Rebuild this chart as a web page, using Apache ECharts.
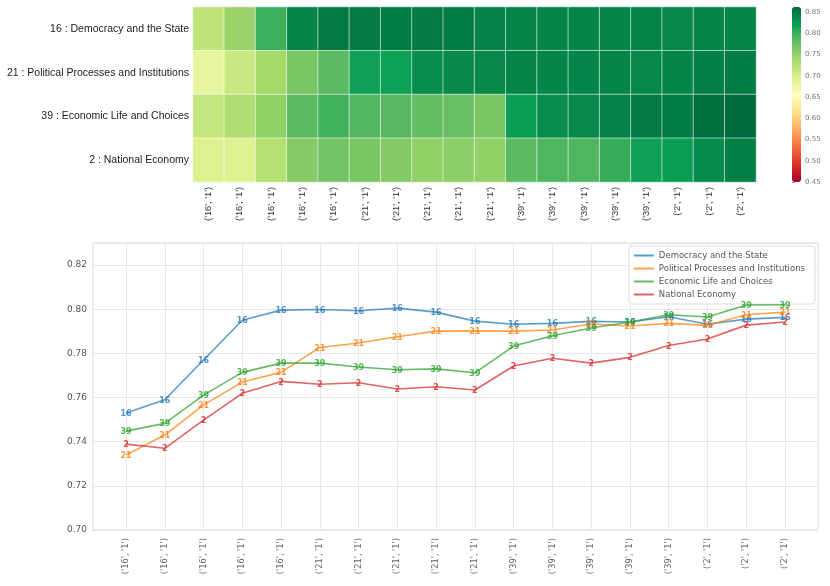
<!DOCTYPE html>
<html><head><meta charset="utf-8">
<script src="https://cdn.jsdelivr.net/npm/echarts@6/dist/echarts.min.js"></script>
<style>html,body{margin:0;padding:0;background:#fff}#c{width:830px;height:586px}</style>
</head><body><div id="c"></div>
<script>
const xLabels = ["('16', '1')","('16', '1')","('16', '1')","('16', '1')","('16', '1')",
  "('21', '1')","('21', '1')","('21', '1')","('21', '1')","('21', '1')",
  "('39', '1')","('39', '1')","('39', '1')","('39', '1')","('39', '1')",
  "('2', '1')","('2', '1')","('2', '1')"];
const topicNames = ['16 : Democracy and the State','21 : Political Processes and Institutions','39 : Economic Life and Choices','2 : National Economy'];
const seriesNames = ['Democracy and the State','Political Processes and Institutions','Economic Life and Choices','National Economy'];
const seriesCodes = ['16','21','39','2'];
const seriesColors = ['#1f77b4','#ff7f0e','#2ca02c','#d62728'];

// heatmap values (colour scale 0.45 - 0.862)
const heat16 = [0.718,0.747,0.798,0.840,0.850,0.850,0.848,0.850,0.848,0.843,0.840,0.840,0.840,0.840,0.842,0.839,0.840,0.840];
const heat21 = [0.681,0.710,0.738,0.767,0.784,0.819,0.820,0.834,0.839,0.839,0.840,0.840,0.841,0.840,0.839,0.840,0.845,0.848];
const heat39 = [0.714,0.730,0.751,0.784,0.796,0.788,0.786,0.780,0.778,0.767,0.822,0.834,0.838,0.843,0.850,0.848,0.860,0.861];
const heat2  = [0.693,0.693,0.726,0.759,0.771,0.767,0.761,0.751,0.755,0.751,0.784,0.790,0.790,0.800,0.819,0.822,0.836,0.846];

// line values
const line16 = [0.7530,0.7590,0.7770,0.7950,0.7996,0.7999,0.7993,0.8005,0.7987,0.7946,0.7932,0.7936,0.7945,0.7942,0.7966,0.7932,0.7955,0.7963];
const line21 = [0.7340,0.7430,0.7567,0.7670,0.7714,0.7827,0.7847,0.7875,0.7901,0.7902,0.7901,0.7906,0.7933,0.7924,0.7936,0.7927,0.7975,0.7987];
const line39 = [0.7448,0.7483,0.7611,0.7714,0.7756,0.7756,0.7738,0.7726,0.7730,0.7712,0.7833,0.7880,0.7915,0.7942,0.7975,0.7965,0.8019,0.8020];
const line2  = [0.7389,0.7370,0.7498,0.7619,0.7673,0.7660,0.7667,0.7639,0.7649,0.7634,0.7743,0.7778,0.7756,0.7782,0.7836,0.7865,0.7928,0.7942];

const heatRows = [heat16, heat21, heat39, heat2];
const lineRows = [line16, line21, line39, line2];

const heatData = [];
heatRows.forEach((row, yi) => row.forEach((v, xi) => heatData.push([xi, yi, v])));

const chart = echarts.init(document.getElementById('c'), null, {renderer: 'canvas'});
const DV = 'DejaVu Sans';
const LS = 'Liberation Sans';

const lineSeries = lineRows.map((row, i) => ({
  type: 'line', name: seriesNames[i], xAxisIndex: 2, yAxisIndex: 2,
  data: row, symbol: 'circle', symbolSize: 10,
  itemStyle: {color: 'rgba(0,0,0,0)', borderWidth: 0},
  lineStyle: {color: seriesColors[i], width: 1.6, opacity: 0.72},
  label: {show: true, position: [5, 5], offset: [0, 1], align: 'center', verticalAlign: 'middle', formatter: seriesCodes[i],
    color: seriesColors[i], opacity: 0.8, fontSize: 8, fontWeight: 'bold', fontFamily: DV},
  emphasis: {disabled: true}, z: 3 + i
}));

chart.setOption({
  animation: false,
  backgroundColor: '#fff',
  grid: [
    {left: 193, top: 7, width: 563, height: 175},
    {left: 93, top: 243, right: 12, bottom: 56, show: true, borderColor: '#dcdcdc', borderWidth: 1, backgroundColor: 'transparent'},
    {left: 126, top: 243, right: 45, bottom: 56},
    {left: 792, top: 7, width: 9, height: 175}
  ],
  xAxis: [
    {type: 'category', gridIndex: 0, data: xLabels, axisLine: {show: false}, axisTick: {show: false},
     axisLabel: {rotate: 90, interval: 0, fontSize: 9.3, color: '#333', margin: 5, fontFamily: LS}, splitLine: {show: false}},
    {type: 'value', gridIndex: 1, show: false, min: 0, max: 1},
    {type: 'category', gridIndex: 2, data: xLabels, boundaryGap: false, axisLine: {show: false}, axisTick: {show: false},
     axisLabel: {rotate: 90, interval: 0, fontSize: 8.2, color: '#666', margin: 8, fontFamily: DV},
     splitLine: {show: true, interval: 0, lineStyle: {color: '#e6e6e6', width: 1}}},
    {type: 'value', gridIndex: 3, show: false, min: 0, max: 1}
  ],
  yAxis: [
    {type: 'category', gridIndex: 0, data: topicNames, inverse: true, axisLine: {show: false}, axisTick: {show: false},
     axisLabel: {fontSize: 10.5, color: '#222', margin: 4, fontFamily: LS}},
    {type: 'value', gridIndex: 1, min: 0.70, max: 0.83, interval: 0.02, axisLine: {show: false}, axisTick: {show: false},
     axisLabel: {fontSize: 9, color: '#555', margin: 6, fontFamily: DV, showMaxLabel: false, formatter: v => v.toFixed(2)},
     splitLine: {show: true, lineStyle: {color: '#e6e6e6', width: 1}}},
    {type: 'value', gridIndex: 2, min: 0.70, max: 0.83, show: false},
    {type: 'value', gridIndex: 3, position: 'right', min: 0.45, max: 0.862, interval: 0.05,
     axisLine: {show: false}, axisTick: {show: true, length: 3, lineStyle: {color: '#999'}},
     axisLabel: {fontSize: 7, color: '#777', margin: 4, fontFamily: DV, showMaxLabel: false, formatter: v => v.toFixed(2)},
     splitLine: {show: false}}
  ],
  visualMap: {
    type: 'continuous', seriesIndex: 0, min: 0.45, max: 0.862, calculable: false, showLabel: false,
    left: 792, top: 7, itemWidth: 9, itemHeight: 175, padding: 0, text: null,
    inRange: {color: ['#a50026','#d73027','#f46d43','#fdae61','#fee08b','#ffffbf','#d9ef8b','#a6d96a','#66bd63','#0a9f55','#006a3c']}
  },
  legend: {
    data: seriesNames, orient: 'vertical', right: 15, top: 246,
    backgroundColor: '#fff', borderColor: '#ddd', borderWidth: 1, borderRadius: 3,
    padding: [5, 10, 5, 4], itemGap: 4, itemWidth: 20, itemHeight: 9,
    textStyle: {fontSize: 8.5, color: '#555', fontFamily: DV}
  },
  series: [
    {type: 'heatmap', xAxisIndex: 0, yAxisIndex: 0, data: heatData,
     itemStyle: {borderColor: 'rgba(255,255,255,0.55)', borderWidth: 1}, emphasis: {disabled: true}}
  ].concat(lineSeries)
});
</script></body></html>
